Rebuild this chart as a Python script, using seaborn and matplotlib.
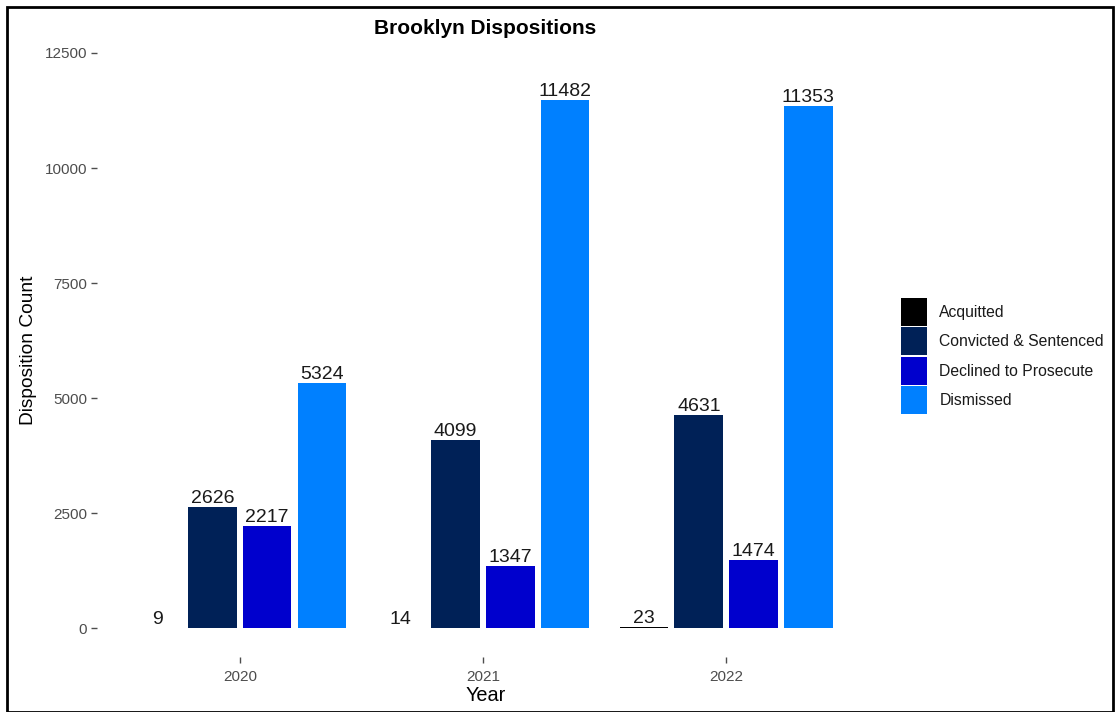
import matplotlib
matplotlib.use("Agg")
import matplotlib.pyplot as plt
import seaborn as sns
import pandas as pd
from matplotlib.patches import Rectangle

years = ["2020", "2021", "2022"]
dispositions = ["Acquitted", "Convicted & Sentenced", "Declined to Prosecute", "Dismissed"]
acquitted = [9, 14, 23]
convicted = [2626, 4099, 4631]
declined = [2217, 1347, 1474]
dismissed = [5324, 11482, 11353]
colors = ["#000000", "#002157", "#0000CD", "#0080FF"]

rows = []
for name, vals in zip(dispositions, [acquitted, convicted, declined, dismissed]):
    for y, v in zip(years, vals):
        rows.append({"Year": y, "Disposition": name, "Count": v})
df = pd.DataFrame(rows)

sns.set_style("white")
plt.rcParams["font.family"] = ["Liberation Sans", "DejaVu Sans"]

fig = plt.figure(figsize=(11.15, 7.12), dpi=100)
ax = fig.add_axes([0.087, 0.0772, 0.698, 0.8888])

sns.barplot(data=df, x="Year", y="Count", hue="Disposition", order=years,
            hue_order=dispositions, palette=colors, width=0.9, gap=0.11, ax=ax,
            linewidth=0, saturation=1, errorbar=None)

for cont in ax.containers:
    ax.bar_label(cont, fmt="%d", fontsize=14, padding=0, color="#1a1a1a")

ax.set_xlim(-0.587, 2.613)
ax.set_ylim(-625, 13125)
ax.set_yticks([0, 2500, 5000, 7500, 10000, 12500])
ax.tick_params(axis="both", colors="#4D4D4D", labelsize=11, length=4, width=1,
               left=True, bottom=True, direction="out")
ax.tick_params(axis="y", pad=3)
ax.tick_params(axis="x", pad=5)
for s in ax.spines.values():
    s.set_visible(False)
ax.set_xlabel("Year", fontsize=14.3, color="black", labelpad=2)
ax.set_ylabel("Disposition Count", fontsize=13.8, color="black")
ax.yaxis.set_label_coords((37 - 97) / 778, (657 - 350) / 633)
fig.text(485 / 1115, 1 - 28 / 712, "Brooklyn Dispositions", fontsize=15,
         fontweight="bold", color="black", ha="center", va="center")

leg = ax.legend(loc="center left", bbox_to_anchor=(901 / 1115, 1 - 356 / 712),
                bbox_transform=fig.transFigure, frameon=False,
                fontsize=11.3, handlelength=1.65, handleheight=2.35,
                labelspacing=0.1, handletextpad=0.8, title=None, borderaxespad=0,
                borderpad=0)
for t in leg.get_texts():
    t.set_color("#1a1a1a")

fig.patches.append(Rectangle((7/1115, 0.0), 1 - 9/1115, 1 - 7/712, transform=fig.transFigure,
                             fill=False, edgecolor="black", linewidth=2, zorder=10))

fig.savefig("out.png", dpi=100)
